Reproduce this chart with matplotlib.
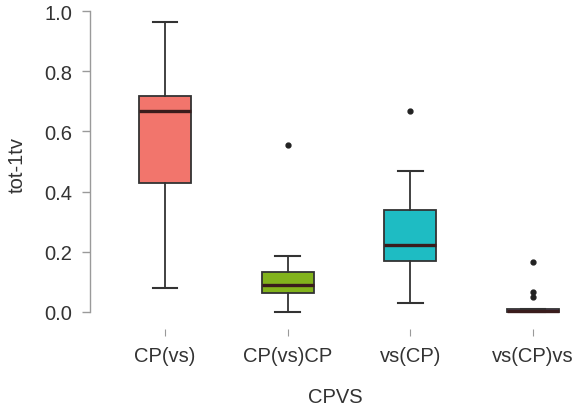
#!/usr/bin/env python3

import matplotlib
matplotlib.use("Agg")
import matplotlib.pyplot as plt

# Group summaries (tot-1tv per CPVS pattern)
categories = ["CP(vs)", "CP(vs)CP", "vs(CP)", "vs(CP)vs"]
whisker_low = [0.081, 0.000, 0.031, 0.000]
q1 = [0.429, 0.063, 0.168, 0.000]
medians = [0.667, 0.090, 0.223, 0.004]
q3 = [0.717, 0.134, 0.340, 0.011]
whisker_high = [0.964, 0.187, 0.468, 0.011]
outliers = [[], [0.555], [0.668], [0.165, 0.065, 0.050]]
box_colors = ["#F2756C", "#82B31C", "#1EBCC3", "#C77CFF"]

plt.rcParams["font.family"] = ["Liberation Sans", "DejaVu Sans"]

fig = plt.figure(figsize=(5.8, 4.06), dpi=100)
ax = fig.add_axes([90 / 580, 76 / 406, 490 / 580, 330 / 406])

stats = []
for i, name in enumerate(categories):
    stats.append({
        "label": name,
        "whislo": whisker_low[i],
        "q1": q1[i],
        "med": medians[i],
        "q3": q3[i],
        "whishi": whisker_high[i],
        "fliers": outliers[i],
    })

positions = list(range(1, len(categories) + 1))
bp = ax.bxp(
    stats,
    positions=positions,
    widths=0.424,
    capwidths=0.2,
    patch_artist=True,
    boxprops=dict(edgecolor="#333333", linewidth=1.3),
    medianprops=dict(color="#3a1c1c", linewidth=2.4),
    whiskerprops=dict(color="#333333", linewidth=1.3),
    capprops=dict(color="#333333", linewidth=1.5),
    flierprops=dict(marker="o", markerfacecolor="#222222",
                    markeredgecolor="#222222", markersize=3.5),
)
for patch, color in zip(bp["boxes"], box_colors):
    patch.set_facecolor(color)

ax.set_xlim(0.389, 4.383)
ax.set_ylim(-0.0565, 1.040)

for side in ("top", "right", "bottom"):
    ax.spines[side].set_visible(False)
ax.spines["left"].set_bounds(0, 1.0)
ax.spines["left"].set_color("#9a9a9a")
ax.spines["left"].set_linewidth(1.0)

ax.set_yticks([0.0, 0.2, 0.4, 0.6, 0.8, 1.0])
ax.set_yticklabels(["0.0", "0.2", "0.4", "0.6", "0.8", "1.0"])
ax.set_xticks(positions)
ax.set_xticklabels(categories)

ax.tick_params(axis="y", direction="out", length=6, width=1.0,
               color="#9a9a9a", pad=7, labelsize=14.5, labelcolor="#333333")
ax.tick_params(axis="x", direction="out", length=5, width=0.8,
               color="#9a9a9a", pad=7, labelsize=14.5, labelcolor="#333333")

ax.set_xlabel("CPVS", fontsize=14.5, color="#333333")
ax.xaxis.set_label_coords(0.5, -0.176)
ax.set_ylabel("tot-1tv", fontsize=14.5, color="#333333")
ax.yaxis.set_label_coords(-0.129, 0.5)

fig.savefig("out.png", dpi=100)
plt.close(fig)
